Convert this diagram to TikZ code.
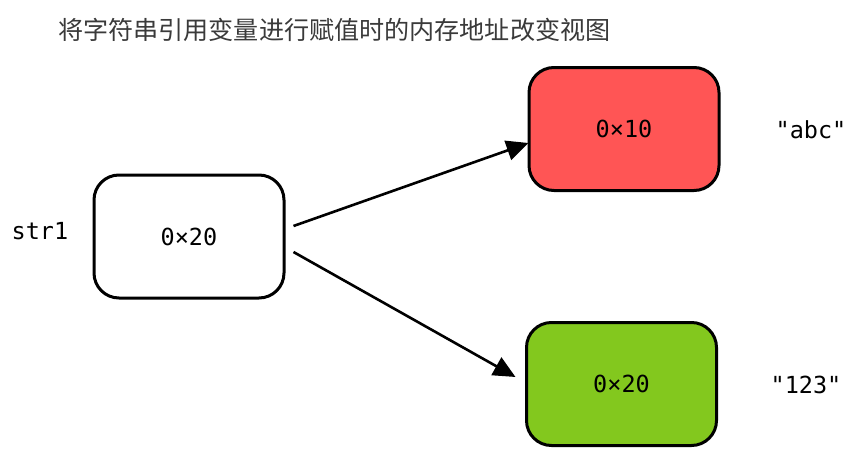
\documentclass[tikz,border=0pt]{standalone}
\usepackage{fontspec}
\newfontfamily\cjk{Noto Sans CJK SC}
\newfontfamily\mono{DejaVu Sans Mono}
\usetikzlibrary{arrows.meta}
\definecolor{redbox}{HTML}{FF5555}
\definecolor{greenbox}{HTML}{83C81E}
\definecolor{titlegray}{HTML}{3A3A3A}
\begin{document}
\begin{tikzpicture}[x=1pt,y=-1pt,
  box/.style={draw=black, line width=3pt, rounded corners=25pt, minimum width=190pt, minimum height=123pt, inner sep=0pt, font=\mono\fontsize{23.5}{27}\selectfont},
  lbl/.style={font=\mono\fontsize{23.5}{27}\selectfont, inner sep=0pt},
  conn/.style={line width=2.6pt, -{Triangle[length=22pt,width=20pt]}}]
\useasboundingbox (0,0) rectangle (864,460);
\node[anchor=west, inner sep=0pt, text=titlegray, font=\cjk\fontsize{25.1}{29}\selectfont] (title) at (58,30) {将字符串引用变量进行赋值时的内存地址改变视图};
\node[box, fill=white] (w) at (189,236.5) {0×20};
\node[box, fill=redbox] (r) at (624,129) {0×10};
\node[box, fill=greenbox] (g) at (621.5,384) {0×20};
\node[lbl] (s) at (40,231) {str1};
\node[lbl] (abc) at (811,130) {"abc"};
\node[lbl] (n123) at (806,385) {"123"};
\coordinate (a1s) at ([shift={(8,-10.5)}]w.east);
\coordinate (a1e) at ([shift={(1,14)}]r.west);
\coordinate (a2s) at ([shift={(8,15.5)}]w.east);
\coordinate (a2e) at ([shift={(-9.5,-7)}]g.west);
\draw[conn] (a1s) -- (a1e);
\draw[conn] (a2s) -- (a2e);
\end{tikzpicture}
\end{document}
